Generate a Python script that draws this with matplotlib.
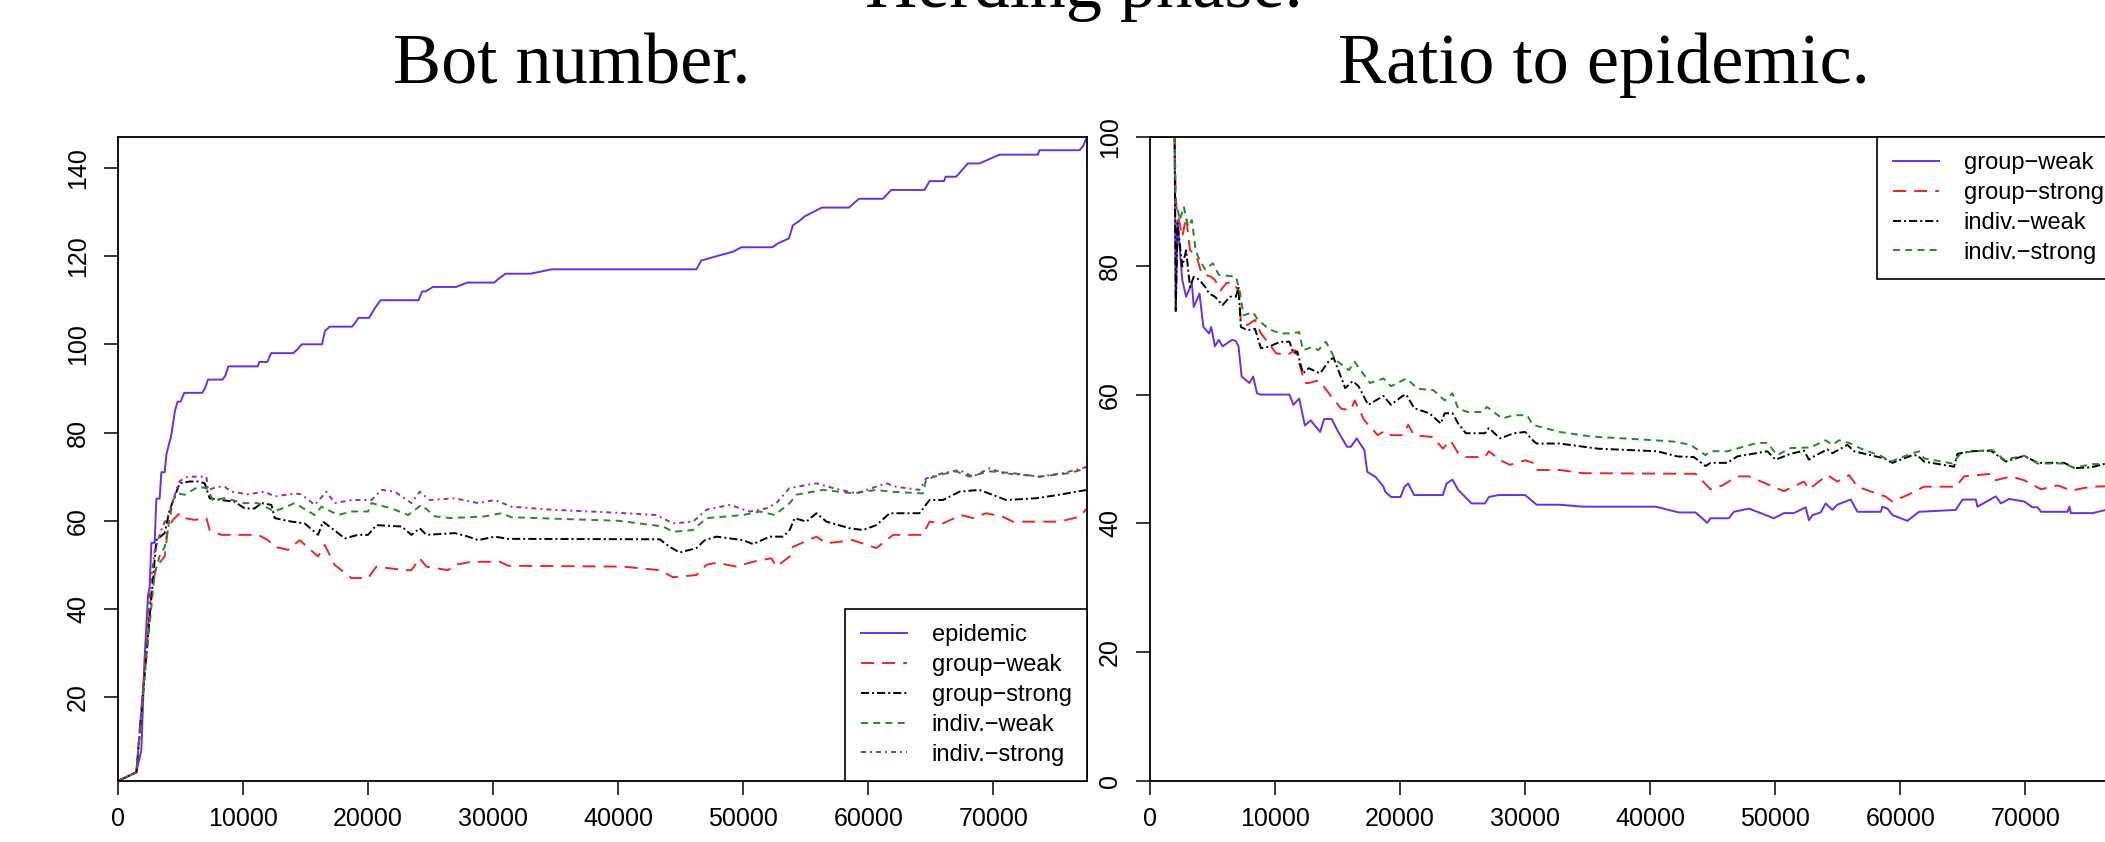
import matplotlib
matplotlib.use("Agg")
import matplotlib.pyplot as plt

plt.rcParams['font.family'] = ['Liberation Sans', 'DejaVu Sans']
plt.rcParams['lines.scale_dashes'] = False

# ---- left panel: bot number ----
epi_x = [0, 1470, 1870, 2130, 2400, 2530, 2670, 2930, 3070, 3330, 3470, 3730, 3870, 4130,
         4240, 4560, 4770, 5000, 5300, 6740, 6950, 7200, 8360, 8600, 8820, 11180, 11300,
         11940, 12250, 14020, 14400, 14700, 16320, 16550, 16930, 18710, 19000, 19230, 20080,
         20500, 21000, 24030, 24330, 24600, 25190, 27030, 27950, 30090, 30500, 31000, 32990,
         34680, 46260, 46650, 47900, 49190, 49850, 52330, 52860, 53660, 53980, 54510, 54910,
         56300, 58460, 59260, 61180, 61840, 64510, 64910, 66060, 66200, 67040, 67970, 68900,
         69700, 70500, 73570, 73700, 76900, 77200, 77480]
epi_y = [1, 3, 8, 29, 43, 45, 55, 55, 65, 65, 71, 71, 75, 78,
         79, 85, 87, 87, 89, 89, 90, 92, 92, 93, 95, 95, 96,
         96, 98, 98, 99, 100, 100, 103, 104, 104, 105, 106, 106,
         108, 110, 110, 112, 112, 113, 113, 114, 114, 115, 116, 116,
         117, 117, 119, 120, 121, 122, 122, 123, 124, 127, 128, 129,
         131, 131, 133, 133, 135, 135, 137, 137, 138, 138, 141, 141,
         142, 143, 143, 144, 144, 145, 147]

gw_x = [0, 1470, 2000, 2670, 3070, 3730, 4000, 4400, 4930, 5330, 6130, 7070, 7330, 8270,
        11200, 12000, 12530, 13600, 14530, 16000, 16540, 17330, 18670, 20000, 20670, 22940,
        23470, 24130, 24670, 26400, 26940, 28270, 30540, 31200, 40400, 43320, 44390, 46260,
        47060, 47860, 49460, 50790, 52250, 52660, 53720, 53990, 55860, 56660, 58780, 60650,
        62000, 64370, 64910, 65970, 67440, 68370, 69430, 70770, 71570, 75290, 76900, 77500]
gw_y = [1, 3, 22, 44, 49.6, 51.9, 58.3, 60.2, 61.7, 60.6, 60.2, 60.6, 57.9, 56.8,
        56.8, 55.6, 54.1, 53.4, 55.6, 51.9, 54.5, 50, 47, 47, 49.6, 48.8,
        48.8, 51.5, 49.6, 48.8, 50, 50.7, 50.7, 49.8, 49.6, 48.8, 47.2, 47.7,
        50, 50.5, 49.6, 50.7, 51.5, 49.6, 51.9, 54.1, 56.4, 54.9, 55.6, 53.8,
        56.8, 56.8, 59.8, 59.4, 61.3, 60.6, 61.7, 60.9, 59.8, 59.8, 60.9, 62.8]

gs_x = [0, 1470, 2130, 3070, 3730, 4130, 4930, 5730, 6400, 6930, 7330, 8270, 9330, 10130,
        10930, 11470, 12270, 12530, 13870, 14930, 16000, 16400, 17600, 18130, 19200, 20000,
        20670, 22670, 23470, 24130, 24670, 26940, 28000, 28800, 30140, 31200, 43320, 44120,
        44920, 46260, 46930, 47860, 50000, 50790, 52120, 53190, 53720, 54120, 55050, 55860,
        56660, 58520, 59590, 60650, 61720, 64100, 64910, 65970, 67310, 68900, 71040, 73430,
        75290, 77500]
gs_y = [1, 3, 25, 55.6, 57.2, 62.4, 68.5, 68.9, 68.9, 68.5, 65.1, 64.7, 64.3, 62.8,
        62.8, 64, 63.6, 60.6, 59.8, 59.4, 56.8, 59.8, 57.2, 56, 56.8, 56.8,
        59, 58.7, 56.8, 58.3, 56.8, 57.2, 56.4, 55.6, 56.4, 55.9, 55.8, 54.1,
        52.8, 53.8, 55.6, 56.4, 55.6, 54.7, 56.4, 56.4, 57.9, 60.6, 59.8, 61.7,
        59.8, 58.3, 57.9, 59, 61.7, 61.7, 64.7, 64.7, 66.6, 67, 64.7, 65.1,
        65.9, 67]

iw_x = [0, 1470, 2130, 2930, 3330, 3730, 4400, 4800, 5330, 6400, 7070, 7600, 8530, 10130,
        11200, 12530, 14130, 15730, 16270, 17600, 18670, 20000, 20270, 21870, 23200, 24270,
        25340, 26670, 29340, 30670, 31470, 37730, 40000, 43590, 44390, 45990, 47060, 50000,
        51320, 52520, 53720, 54250, 56380, 58780, 60650, 61720, 64370, 64640, 65700, 67040,
        68100, 69700, 71570, 73700, 76100, 77500]
iw_y = [1, 3, 25, 48, 52, 54, 64.7, 66.2, 65.9, 67.7, 67.4, 64.7, 65.1, 64,
        64, 62.1, 64, 61.3, 63.2, 61.3, 62.1, 62.1, 64, 62.8, 61.3, 63.6,
        61, 60.6, 61, 61.7, 60.8, 60.2, 60, 58.7, 57.5, 57.9, 60.6, 61.3,
        62.1, 61.3, 64, 65.9, 67, 66.2, 67, 66.6, 66.2, 69.3, 70.4, 71.2,
        70, 71.2, 70.8, 70, 70.8, 71.9]

is_x = [0, 1470, 2000, 2530, 2930, 3470, 4130, 4670, 4930, 5600, 6400, 7070, 7200, 8000,
        8530, 9070, 10400, 11730, 12530, 14130, 14670, 15730, 16670, 17330, 18670, 20270,
        21070, 22130, 23470, 24130, 24930, 26940, 28800, 30140, 31470, 34670, 40000, 43060,
        44390, 45990, 47060, 48930, 50520, 51860, 52660, 53700, 55860, 57190, 59060, 61440,
        62240, 64100, 64640, 65970, 67310, 68370, 69700, 70770, 73700, 75560, 77160, 77500]
is_y = [1, 3, 22, 44, 53, 58, 62, 67, 69, 70, 70, 70, 67, 67.7,
        67.7, 66.6, 66, 66.6, 65.5, 66.2, 66, 63.6, 66.6, 64, 64.7, 64.7,
        67, 66.6, 64, 66.6, 64.7, 65.1, 64, 64.7, 63.2, 62.5, 61.8, 61.3,
        59.4, 59.8, 62.5, 63.6, 62.1, 62.8, 64, 67.4, 68.5, 67.4, 66.2, 68.5,
        67.7, 67, 69.6, 70.8, 71.5, 70, 71.9, 70.8, 70, 70.8, 71.9, 72.3]

# ---- right panel: ratio to epidemic ----
r_gw_x = [0, 1970, 2060, 2200, 2580, 2890, 3350, 3500, 3960, 4270, 4730, 4900, 5190, 5500,
          5800, 6570, 6870, 7080, 7330, 7950, 8250, 8560, 8870, 11160, 11470, 11930, 12390,
          12850, 13610, 13920, 14540, 15000, 15760, 16070, 16530, 17140, 17380, 18050, 18670,
          18820, 19280, 20040, 20350, 20650, 21120, 23420, 23720, 24190, 24650, 25720, 26790,
          27100, 27860, 30010, 30920, 32760, 34600, 40430, 42300, 43630, 44570, 44830, 46300,
          46700, 47900, 49900, 50700, 51500, 52440, 52700, 53000, 53640, 54040, 54580, 54970,
          56040, 56580, 58440, 58580, 58980, 59380, 60580, 61510, 64450, 64980, 66050, 66180,
          67650, 68050, 68720, 69920, 70590, 71000, 71260, 73390, 73530, 73660, 75400, 76460,
          77500]
r_gw_y = [100, 100, 73, 87, 77.8, 75.2, 77.3, 73.6, 75.7, 70.5, 69.5, 70.5, 67.5, 68.5,
          67.5, 68.5, 68.3, 67.5, 62.8, 61.8, 62.8, 60.2, 60, 60, 58.4, 59.4, 55.2,
          56, 54.2, 56.2, 56.2, 54.4, 51.9, 51.9, 53.2, 51.4, 48, 47.2, 45.7,
          44.9, 44.1, 44.1, 45.7, 46.2, 44.4, 44.4, 46.2, 46.8, 45.2, 43.1, 43.1,
          44.1, 44.4, 44.4, 42.9, 42.9, 42.6, 42.6, 41.7, 41.7, 40.1, 40.8, 40.8,
          41.8, 42.3, 40.8, 41.6, 41.6, 42.5, 40.5, 41.3, 41.7, 43.1, 42.1, 42.9,
          43.7, 41.8, 41.8, 42.6, 42.3, 41.3, 40.4, 41.8, 42.1, 43.7, 43.7, 42.6,
          44.2, 43.1, 43.8, 43.4, 42.5, 42.5, 41.8, 41.8, 42.6, 41.6, 41.6, 42.1,
          42.3]

r_gs_x = [0, 1970, 2060, 2580, 2890, 3200, 3500, 3810, 4120, 4880, 5190, 5650, 6110, 6570,
          6870, 7080, 7270, 7790, 8400, 8870, 9480, 10090, 11010, 11620, 12390, 12690, 13460,
          13920, 14540, 15300, 16060, 16370, 17140, 17750, 18210, 18820, 19280, 20200, 20650,
          21120, 22650, 23420, 24030, 24650, 25260, 26790, 27100, 28010, 28780, 30010, 30770,
          30920, 32760, 34600, 43630, 44830, 45770, 46970, 47900, 50700, 52310, 52700, 53510,
          54180, 54970, 55910, 56580, 58440, 58800, 59380, 60580, 61910, 64450, 65110, 67250,
          67650, 68850, 69920, 71260, 72600, 73660, 75270, 77500]
r_gs_y = [100, 100, 89.7, 84.5, 87.6, 82.4, 82, 80.9, 78.8, 78.3, 77.8, 76.2, 77.3, 77.5,
          76.7, 76.2, 71.3, 70.8, 71.6, 69.5, 68, 66.4, 66.2, 66.9, 61.8, 61.8, 62.2,
          61.2, 59.6, 57.8, 57.6, 59.1, 56, 54.7, 53.7, 54.4, 53.7, 53.7, 55.3,
          53.7, 53.4, 51.6, 52.9, 50.9, 50.3, 50.3, 51.2, 49.8, 49.1, 49.8, 49.3,
          48.3, 48.3, 47.8, 47.7, 45.3, 45.9, 47.3, 47.3, 45, 46.5, 45.3, 46.5,
          47.5, 46.5, 47.5, 45.7, 44.4, 44.2, 43.4, 44.4, 45.7, 45.7, 47.3, 47.7,
          46.7, 47.3, 46.7, 45.3, 45.9, 45.1, 45.7, 45.8]

r_iw_x = [0, 1970, 2060, 2200, 2580, 2890, 3200, 3500, 3960, 4420, 4730, 5190, 5800, 6410,
          6870, 7080, 7270, 7790, 8400, 8870, 9480, 10400, 11160, 11470, 11780, 12230, 12690,
          13610, 14380, 14690, 15610, 16220, 16680, 17450, 18670, 19280, 20200, 20500, 21120,
          22340, 23260, 23570, 24190, 24650, 25260, 26790, 27100, 28010, 29080, 30010, 30620,
          30920, 32760, 35830, 40570, 42170, 43500, 44430, 44830, 46170, 46970, 49370, 50030,
          51230, 52310, 52700, 53100, 54180, 54580, 55780, 56310, 58710, 59380, 60850, 61370,
          61910, 64310, 64580, 65640, 67250, 68450, 69920, 70990, 73120, 73920, 75270, 76460,
          77500]
r_iw_y = [100, 100, 73, 86.6, 79.9, 82.4, 76.7, 78.3, 77.8, 76.7, 75.7, 75.2, 73.9, 75.2,
          75.2, 76.7, 70.5, 70, 70.2, 67.2, 67.4, 68.2, 68.2, 66.4, 66.7, 63.3, 64.1,
          63.3, 65.4, 65.7, 61, 62.1, 61.3, 58.4, 59.8, 58.4, 59.8, 60, 57.9,
          57.1, 55.5, 57.1, 57.1, 55.5, 54, 54, 54.8, 53.2, 54, 54.2, 52.9,
          52.4, 52.4, 51.6, 51.2, 50.4, 50.3, 48.9, 49.4, 49.4, 50.4, 51.2, 49.9,
          50.8, 51.3, 49.9, 50.4, 51.5, 50.9, 52.2, 51.2, 50.1, 49.4, 50.5, 50.6,
          49.6, 48.8, 50.8, 51.2, 51.3, 49.6, 50.5, 49.4, 49.4, 48.6, 48.7, 49.3,
          49.3]

r_is_x = [0, 1970, 2060, 2380, 2700, 3050, 3350, 3650, 3960, 4420, 5030, 5500, 6870, 7170,
          7480, 8250, 8560, 9480, 10400, 11310, 11930, 12230, 13000, 13460, 14070, 14840,
          15910, 16370, 16830, 17600, 18670, 19280, 20500, 21430, 22650, 23570, 24190, 24650,
          25410, 26630, 26940, 28170, 29080, 30160, 30620, 32760, 35230, 40420, 41900, 43230,
          44430, 44830, 46170, 48570, 49370, 50170, 51230, 52830, 54040, 54580, 55110, 55910,
          57110, 58440, 59250, 60580, 61510, 61910, 64180, 64850, 65910, 67380, 68310, 69920,
          70990, 73120, 73920, 75270, 77500]
r_is_y = [100, 100, 90.2, 87.1, 89.2, 86.1, 87.1, 82.4, 80.9, 79.4, 80.4, 78.6, 78.3, 76.2,
          72.3, 72.8, 71.8, 70.2, 69.5, 69.5, 69.7, 66.9, 67.4, 66.9, 68.2, 65.4,
          63.8, 65.1, 63.8, 61.8, 62.5, 61.3, 62.5, 60.9, 60.7, 59.1, 60.2, 57.8,
          57.3, 57.3, 58.1, 56.3, 56.8, 56.8, 55.3, 54.2, 53.5, 52.9, 52.7, 52.2,
          50.6, 51.2, 51.2, 52.5, 52.5, 50.6, 51.7, 51.8, 52.9, 52.2, 52.9, 52.5,
          51.4, 50.5, 49.6, 50.6, 51.2, 50.1, 49.3, 50.9, 51.2, 51.4, 49.9, 50.5,
          49.3, 49.3, 48.6, 49.2, 49.3]

x_ticks = [0, 10000, 20000, 30000, 40000, 50000, 60000, 70000]
left_yticks = [20, 40, 60, 80, 100, 120, 140]
right_yticks = [0, 20, 40, 60, 80, 100]

PURPLE = '#6a2ee6'
RED = '#ee2424'
BLACK = '#000000'
GREEN = '#228b22'
MAGENTA = '#9a2aa8'

solid = '-'
long_dash = (0, (9.4, 5.8))
short_dash = (0, (5.0, 3.8))
dot_dash = (0, (5.8, 2.2, 1.4, 2.2))
dot_dash2 = (0, (3.6, 2.9, 1.4, 2.9))
LW = 1.4

W, H = 2105, 842
fig = plt.figure(figsize=(W / 100, H / 100), dpi=100)
ax1 = fig.add_axes([118 / W, 1 - 781 / H, 969 / W, 644 / H])
ax2 = fig.add_axes([1150 / W, 1 - 781 / H, 969 / W, 644 / H])

left_series = [
    (epi_x, epi_y, 'epidemic', PURPLE, solid),
    (gw_x, gw_y, 'group\u2212weak', RED, long_dash),
    (gs_x, gs_y, 'group\u2212strong', BLACK, dot_dash),
    (iw_x, iw_y, 'indiv.\u2212weak', GREEN, short_dash),
    (is_x, is_y, 'indiv.\u2212strong', MAGENTA, dot_dash2),
]
right_series = [
    (r_gw_x, r_gw_y, 'group\u2212weak', PURPLE, solid),
    (r_gs_x, r_gs_y, 'group\u2212strong', RED, long_dash),
    (r_iw_x, r_iw_y, 'indiv.\u2212weak', BLACK, dot_dash),
    (r_is_x, r_is_y, 'indiv.\u2212strong', GREEN, short_dash),
]

for ax, series in ((ax1, left_series), (ax2, right_series)):
    for xs, ys, lab, col, ls in series:
        ax.plot(xs, ys, color=col, linestyle=ls, lw=LW, label=lab)

ax1.set_xlim(0, 77500)
ax1.set_ylim(1, 147)
ax2.set_xlim(0, 77500)
ax2.set_ylim(0, 100)
ax1.set_yticks(left_yticks)
ax2.set_yticks(right_yticks)

for ax in (ax1, ax2):
    ax.set_xticks(x_ticks)
    ax.set_xticklabels([str(t) for t in x_ticks])
    ax.set_yticklabels([str(int(t)) for t in ax.get_yticks()], rotation=90, va='center')
    ax.tick_params(axis='both', length=10, width=1.1, labelsize=18, colors='black')
    ax.tick_params(axis='x', pad=8.5)
    ax.tick_params(axis='y', pad=10)
    for sp in ax.spines.values():
        sp.set_linewidth(1.3)
    leg_loc = 'lower right' if ax is ax1 else 'upper right'
    leg = ax.legend(loc=leg_loc, borderaxespad=0, fancybox=False, edgecolor='black',
                    framealpha=1, fontsize=17, handlelength=1.95, handletextpad=1.05,
                    borderpad=0.65, labelspacing=0.33)
    leg.get_frame().set_linewidth(1.2)

serif = ['Liberation Serif', 'DejaVu Serif']
fig.text(1084 / W, 1 - 7 / H, 'Herding phase.', ha='center', va='baseline',
         fontsize=52, family=serif)
fig.text(572 / W, 1 - 83 / H, 'Bot number.', ha='center', va='baseline',
         fontsize=52, family=serif)
fig.text(1604 / W, 1 - 83 / H, 'Ratio to epidemic.', ha='center', va='baseline',
         fontsize=52, family=serif)

fig.savefig('out.png', dpi=100)
